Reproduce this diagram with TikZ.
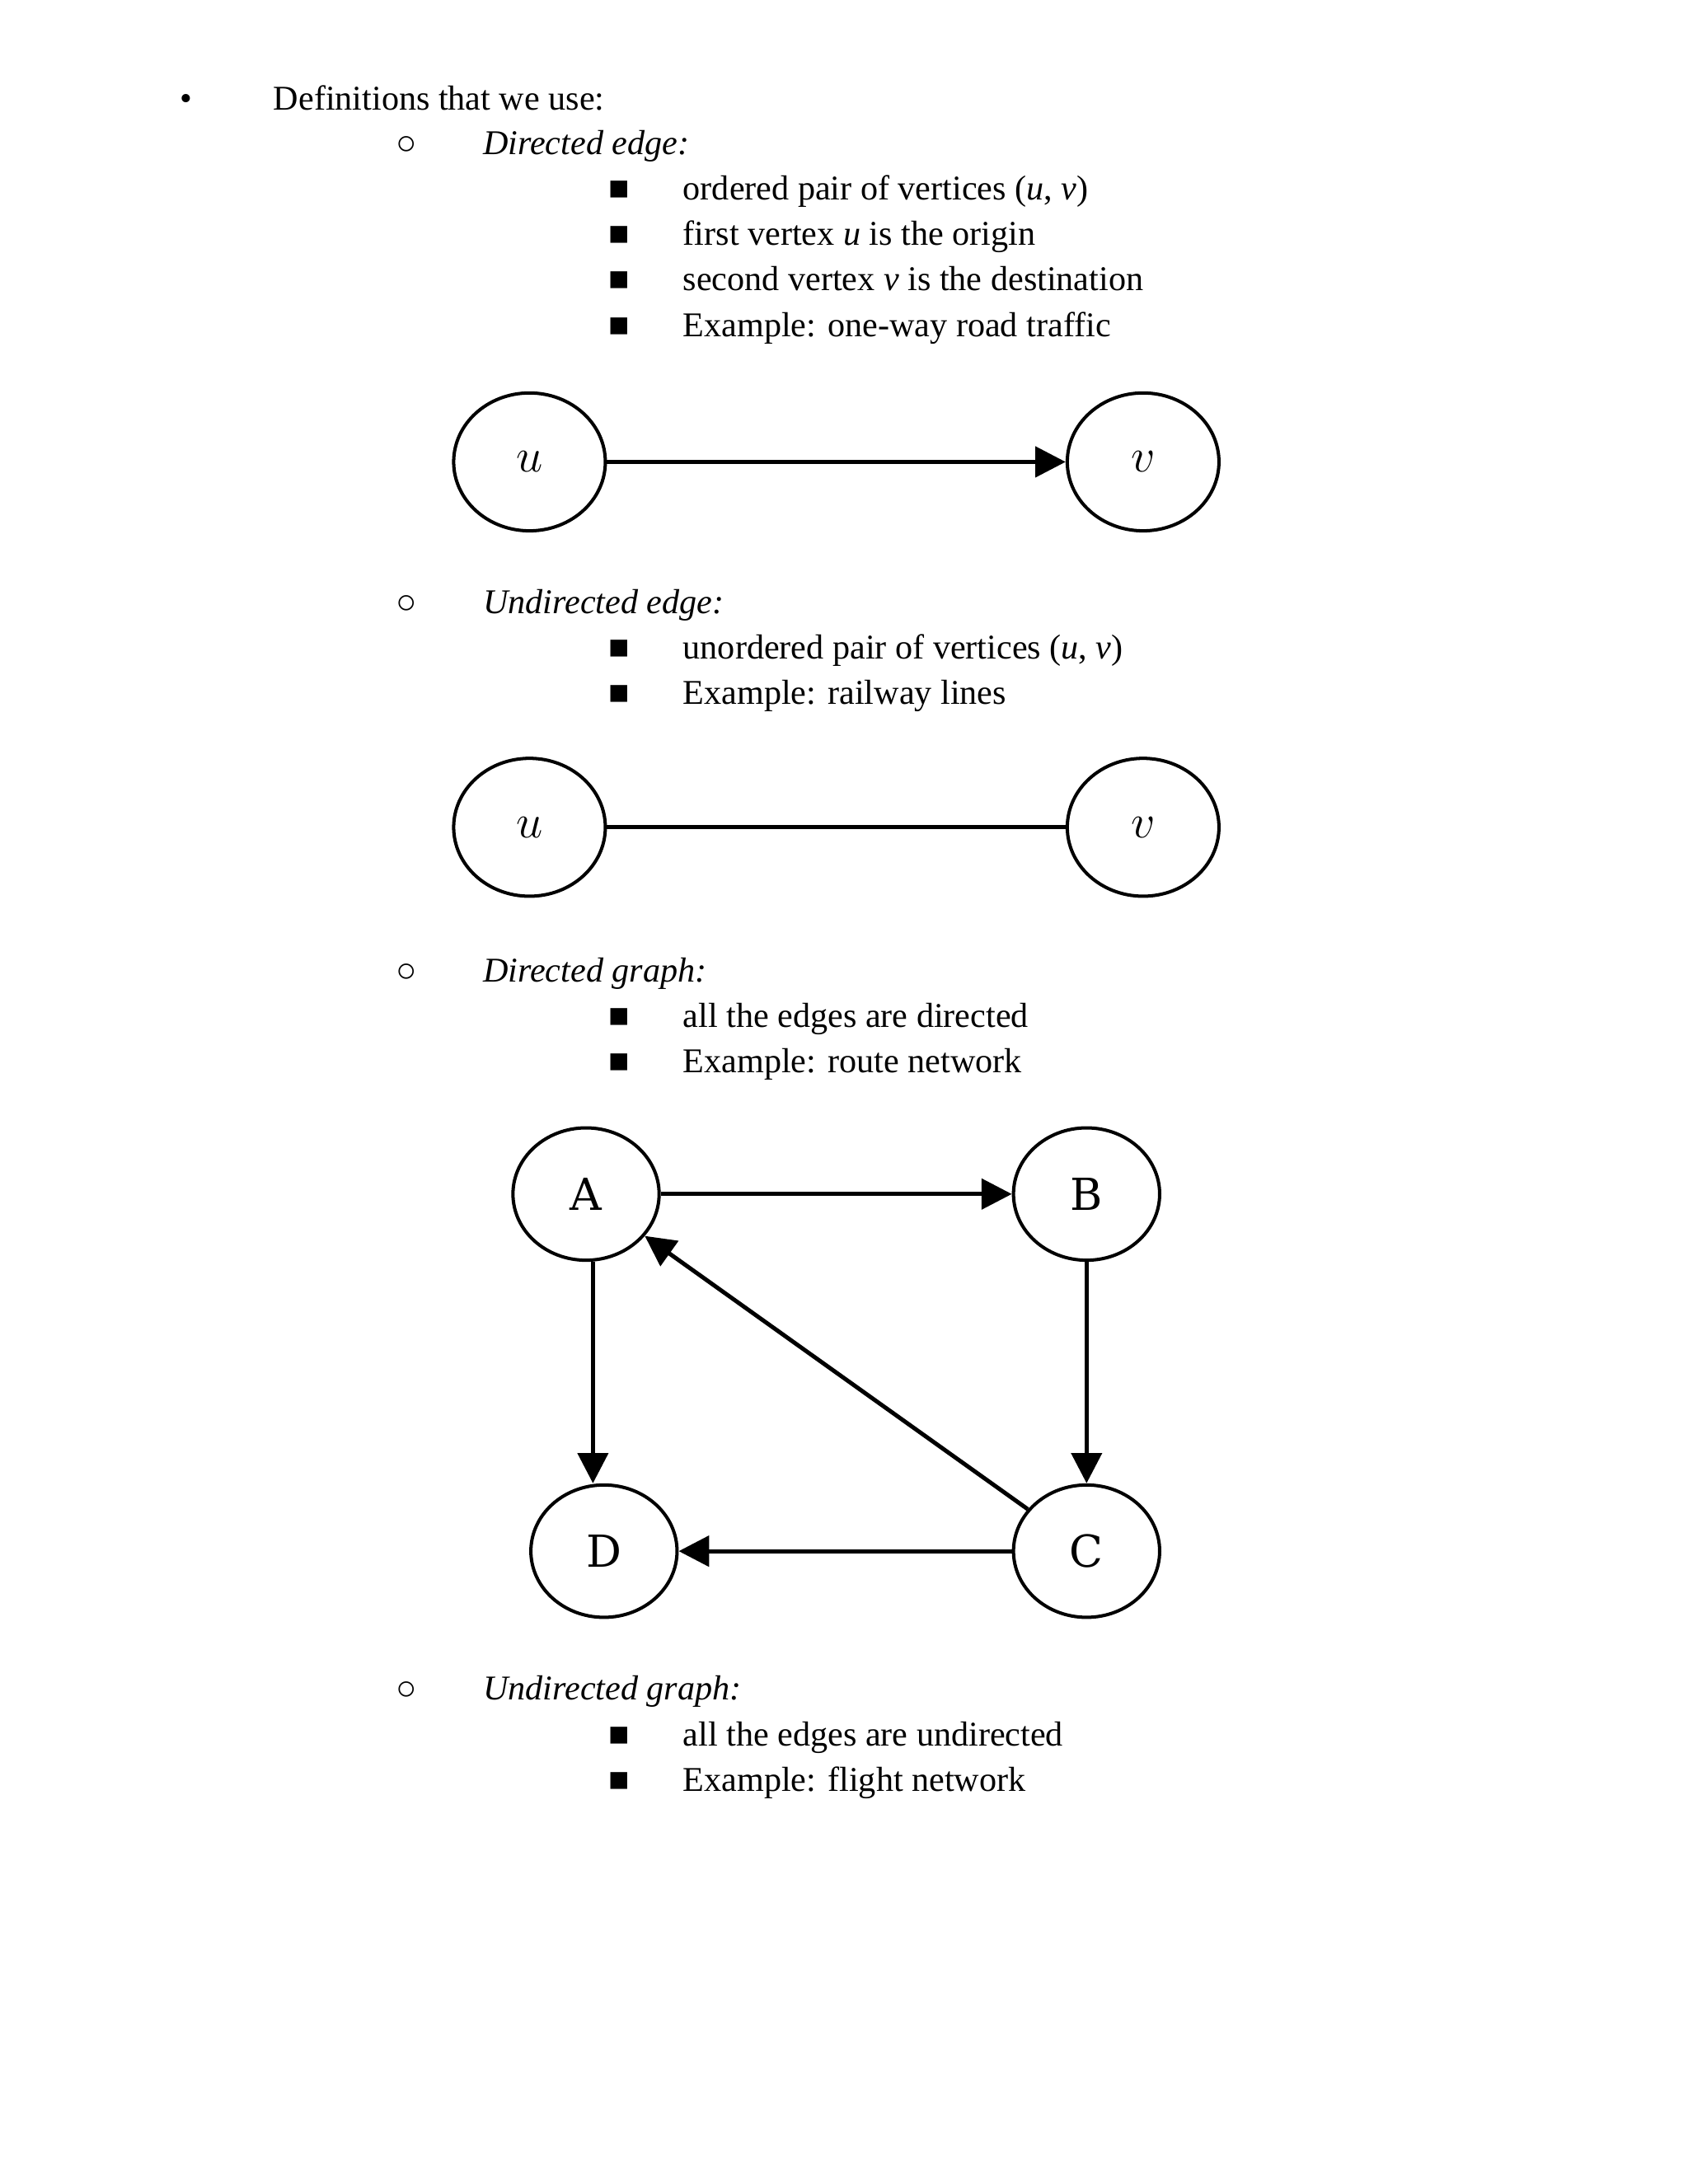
\documentclass[tikz,border=0pt]{standalone}
\usepackage{fontspec}
\setmainfont{Liberation Serif}
\newfontfamily\gfont{DejaVu Serif}
\usetikzlibrary{shapes.geometric,arrows.meta}
\begin{document}
\begin{tikzpicture}[x=0.5pt,y=-0.5pt,
 txt/.style={anchor=base west,inner sep=0pt,font=\fontsize{12.6}{15}\selectfont},
 vert/.style={draw,ellipse,line width=1.2pt,minimum width=55pt,minimum height=50pt,inner sep=0pt,font=\fontsize{17}{20}\selectfont},
 gv/.style={draw,ellipse,line width=1.2pt,minimum width=53pt,minimum height=48pt,inner sep=0pt,font=\gfont\fontsize{16}{19}\selectfont},
 arr/.style={line width=1.5pt,-{Triangle[length=11pt,width=11pt]}},
 ln/.style={line width=1.5pt}]
\useasboundingbox (0,0) rectangle (1224,1584);
\node[txt] (b0) at (130,80) {•};
\node[txt] (t0) at (198,80) {Definitions that we use:};
\node[txt] (c1) at (287,112) {○};
\node[txt] (t1) at (350,112) {\itshape Directed edge:};
\node[txt] (s11) at (441,145) {■};
\node[txt] at (495,145) {ordered pair of vertices (\textit{u}, \textit{v})};
\node[txt] (s12) at (441,178) {■};
\node[txt] at (495,178) {first vertex \textit{u} is the origin};
\node[txt] (s13) at (441,211) {■};
\node[txt] at (495,211) {second vertex \textit{v} is the destination};
\node[txt] (s14) at (441,244) {■};
\node[txt] at (495,244) {Example: one-way road traffic};
\node[vert] (u1) at (384,335) {$u$};
\node[vert] (v1) at (829,335) {$v$};
\draw[arr] (u1) -- (v1);
\node[txt] (c2) at (287,445) {○};
\node[txt] at (350,445) {\itshape Undirected edge:};
\node[txt] at (441,478) {■};
\node[txt] at (495,478) {unordered pair of vertices (\textit{u}, \textit{v})};
\node[txt] at (441,511) {■};
\node[txt] at (495,511) {Example: railway lines};
\node[vert] (u2) at (384,600) {$u$};
\node[vert] (v2) at (829,600) {$v$};
\draw[ln] (u2) -- (v2);
\node[txt] (c3) at (287,712) {○};
\node[txt] at (350,712) {\itshape Directed graph:};
\node[txt] at (441,745) {■};
\node[txt] at (495,745) {all the edges are directed};
\node[txt] at (441,778) {■};
\node[txt] at (495,778) {Example: route network};
\node[gv] (A) at (425,866) {A};
\node[gv] (B) at (788,866) {B};
\node[gv] (D) at (438,1125) {D};
\node[gv] (C) at (788,1125) {C};
\draw[arr] (A) -- (B);
\draw[arr] (B) -- (C);
\draw[arr] (A.south) ++(5,0) coordinate (a1) (a1) -- (a1 |- D.north);
\draw[arr] (C) -- (D);
\draw[arr] (C) -- (A);
\node[txt] (c4) at (287,1233) {○};
\node[txt] at (350,1233) {\itshape Undirected graph:};
\node[txt] at (441,1266) {■};
\node[txt] at (495,1266) {all the edges are undirected};
\node[txt] at (441,1299) {■};
\node[txt] at (495,1299) {Example: flight network};
\end{tikzpicture}
\end{document}
